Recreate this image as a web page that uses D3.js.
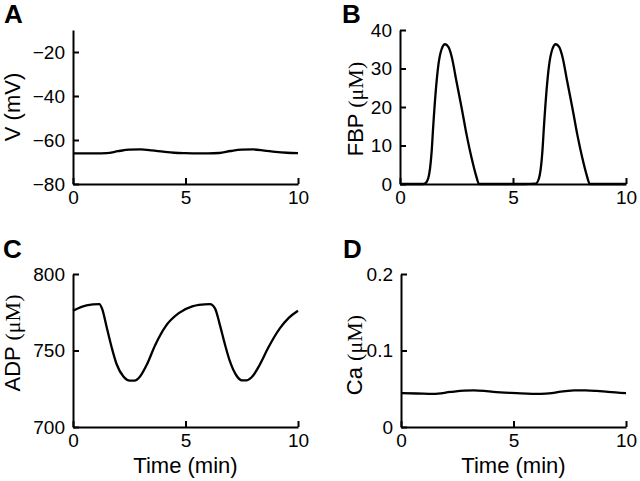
<!DOCTYPE html>
<html>
<head>
<meta charset="utf-8">
<script src="https://cdn.jsdelivr.net/npm/d3@7/dist/d3.min.js"></script>
<style>
  html, body { margin: 0; padding: 0; background: #fff; }
  svg { display: block; }
</style>
</head>
<body>
<svg id="chart" width="640" height="481"></svg>
<script>
// ---- Data ----
const timeTicks = [0, 5, 10];

// A: membrane potential V (mV)
const vTime = [0, 0.5, 1.0, 1.5, 2.0, 2.5, 3.0, 3.5, 4.0, 4.5, 5.0, 5.5, 6.0, 6.5, 7.0, 7.5, 8.0, 8.5, 9.0, 9.5, 10];
const vValues = [-66.1, -66.1, -66.1, -66.0, -65.1, -64.4, -64.3, -64.7, -65.3, -65.8, -66.0, -66.1, -66.1, -65.9, -65.0, -64.4, -64.3, -64.8, -65.4, -65.8, -66.0];
const vTicks = [-80, -60, -40, -20];

// B: FBP (µM)
const fbpTime = [0, 0.5, 1.0, 1.1, 1.25, 1.4, 1.47, 1.58, 1.7, 1.84, 1.99, 2.14, 2.29, 2.5, 2.73, 2.95, 3.17, 3.36, 3.5, 4.0, 4.5, 5.0, 5.5, 6.0, 6.15, 6.3, 6.37, 6.48, 6.6, 6.74, 6.89, 7.04, 7.19, 7.4, 7.63, 7.85, 8.07, 8.26, 8.4, 9.0, 9.5, 10];
const fbpValues = [0, 0, 0, 0.1, 1.5, 8.4, 15, 24, 31, 35, 36.3, 35.6, 33, 26.6, 19.7, 12.7, 6.7, 2.3, 0, 0, 0, 0, 0, 0.1, 1.5, 8.4, 15, 24, 31, 35, 36.3, 35.6, 33, 26.6, 19.7, 12.7, 6.7, 2.3, 0, 0, 0, 0];
const fbpTicks = [0, 10, 20, 30, 40];

// C: ADP (µM)
const adpTime = [0, 0.6, 1.17, 1.3, 1.5, 1.72, 1.94, 2.24, 2.53, 2.73, 2.98, 3.28, 3.65, 4.1, 4.7, 5.3, 5.6, 6.09, 6.31, 6.53, 6.76, 6.98, 7.27, 7.5, 7.7, 7.94, 8.3, 8.67, 9.2, 9.6, 10];
const adpValues = [776, 779.5, 780.3, 777, 765, 752, 741, 733, 730.3, 730.3, 733, 740.7, 753.5, 765.5, 774.4, 778.8, 779.8, 780.3, 777.5, 766.6, 753.6, 742.7, 733.5, 730.5, 730.5, 732.5, 740.7, 751.6, 764.6, 771.5, 776];
const adpTicks = [700, 750, 800];

// D: Ca (µM)
const caTime = [0, 0.7, 1.44, 2.2, 2.8, 3.24, 3.7, 4.1, 5.14, 6.2, 6.7, 7.1, 7.7, 8.2, 8.7, 9.2, 10];
const caValues = [0.0442, 0.0438, 0.0432, 0.0458, 0.0476, 0.048, 0.0472, 0.0458, 0.0442, 0.0432, 0.0442, 0.0462, 0.0478, 0.048, 0.0472, 0.0458, 0.0442];
const caTicks = [0, 0.1, 0.2];

// ---- Drawing ----
const svg = d3.select("#chart");
const sansFont = "'Liberation Sans', Arial, Helvetica, sans-serif";
const serifFont = "'Liberation Serif', 'Times New Roman', serif";

function panel(opts) {
  const g = svg.append("g");
  const x = d3.scaleLinear().domain([0, 10]).range([opts.x0, opts.x1]);
  const y = d3.scaleLinear().domain(opts.yDomain).range([opts.yBot, opts.yTop]);

  const xAxis = d3.axisBottom(x).tickValues(timeTicks).tickFormat(d3.format("d"))
    .tickSizeInner(-6).tickSizeOuter(0).tickPadding(7);
  const yAxis = d3.axisLeft(y).tickValues(opts.yTicks).tickFormat(opts.yFormat)
    .tickSizeInner(-6).tickSizeOuter(0).tickPadding(8);

  const gx = g.append("g").attr("transform", `translate(0,${opts.yBot})`).call(xAxis);
  const gy = g.append("g").attr("transform", `translate(${opts.x0},0)`).call(yAxis);

  [gx, gy].forEach(a => {
    a.selectAll("path.domain").attr("stroke", "#000").attr("stroke-width", 2);
    a.selectAll(".tick line").attr("stroke", "#000").attr("stroke-width", 2);
    a.selectAll(".tick text").attr("fill", "#000")
      .style("font-family", sansFont).style("font-size", "19px");
  });
  gx.attr("font-family", null).attr("font-size", null);
  gy.attr("font-family", null).attr("font-size", null);

  const line = d3.line()
    .x((d, i) => x(opts.t[i]))
    .y(d => y(d))
    .curve(d3.curveMonotoneX);
  g.append("path")
    .datum(opts.v)
    .attr("fill", "none")
    .attr("stroke", "#000")
    .attr("stroke-width", 2.3)
    .attr("stroke-linejoin", "round")
    .attr("d", line);

  // panel letter
  g.append("text")
    .attr("x", opts.letterX).attr("y", opts.letterY)
    .style("font-family", sansFont).style("font-size", "26px").style("font-weight", "bold")
    .text(opts.letter);

  // y title (rotated)
  const yt = g.append("text")
    .attr("transform", `translate(${opts.yTitleX},${opts.yTitleY}) rotate(-90)`)
    .attr("text-anchor", "middle")
    .attr("dominant-baseline", "central")
    .style("font-size", "22px");
  yt.append("tspan").style("font-family", sansFont).text(opts.yTitle);
  if (opts.yUnitSerif) {
    yt.append("tspan").style("font-family", serifFont).text(opts.yUnitSerif);
  }

  if (opts.xTitle) {
    g.append("text")
      .attr("x", (opts.x0 + opts.x1) / 2).attr("y", opts.yBot + 46)
      .attr("text-anchor", "middle")
      .style("font-family", sansFont).style("font-size", "22px")
      .text(opts.xTitle);
  }
}

panel({ letter: "A", letterX: 4, letterY: 23,
  x0: 73, x1: 298, yTop: 30, yBot: 184, yDomain: [-80, -10], yTicks: vTicks,
  yFormat: d3.format("d"), t: vTime, v: vValues,
  yTitle: "V (mV)", yTitleX: 12, yTitleY: 107 });

panel({ letter: "B", letterX: 342, letterY: 23,
  x0: 400, x1: 626, yTop: 30, yBot: 184, yDomain: [0, 40], yTicks: fbpTicks,
  yFormat: d3.format("d"), t: fbpTime, v: fbpValues,
  yTitle: "FBP ", yUnitSerif: "(\u03BCM)", yTitleX: 355, yTitleY: 109 });

panel({ letter: "C", letterX: 3, letterY: 258,
  x0: 73, x1: 298, yTop: 274, yBot: 427, yDomain: [700, 800], yTicks: adpTicks,
  yFormat: d3.format("d"), t: adpTime, v: adpValues,
  yTitle: "ADP ", yUnitSerif: "(\u03BCM)", yTitleX: 12, yTitleY: 343,
  xTitle: "Time (min)" });

panel({ letter: "D", letterX: 343, letterY: 258,
  x0: 401, x1: 626, yTop: 274, yBot: 427, yDomain: [0, 0.2], yTicks: caTicks,
  yFormat: d => d === 0 ? "0" : d3.format(".1f")(d), t: caTime, v: caValues,
  yTitle: "Ca ", yUnitSerif: "(\u03BCM)", yTitleX: 354, yTitleY: 355,
  xTitle: "Time (min)" });
</script>
</body>
</html>
